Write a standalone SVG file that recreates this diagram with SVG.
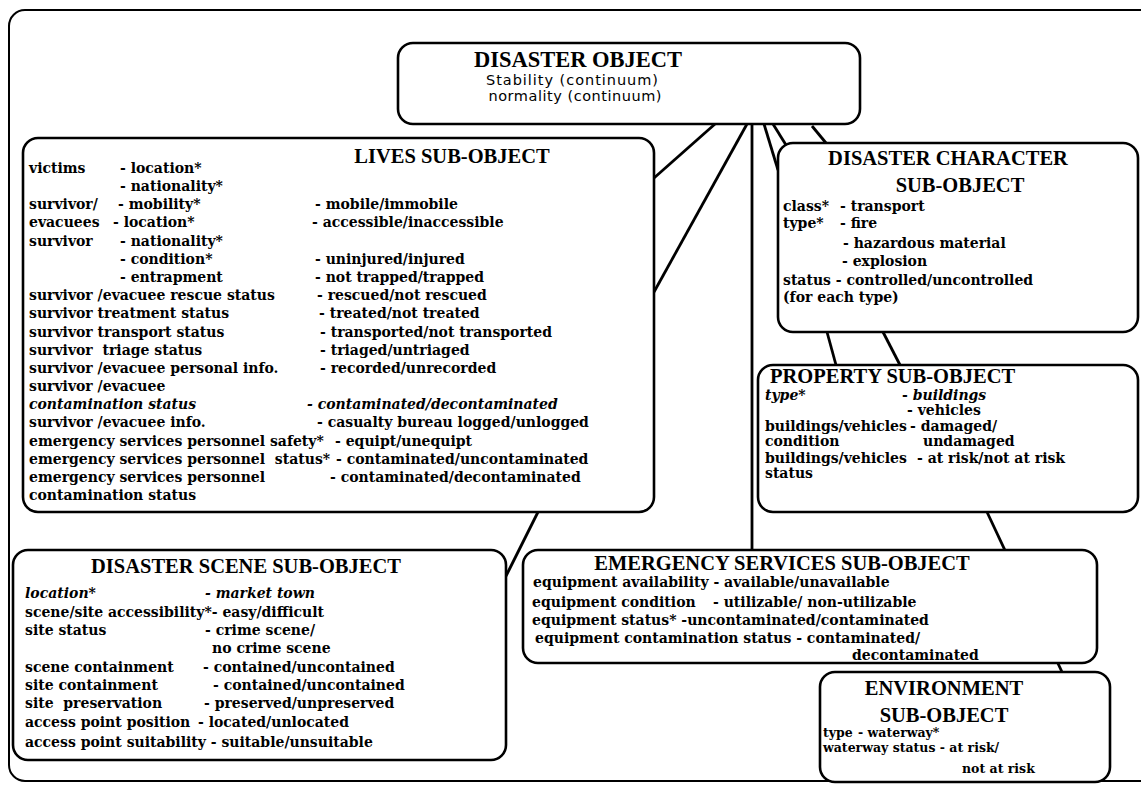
<svg xmlns="http://www.w3.org/2000/svg" width="1141" height="785" viewBox="0 0 1141 785">
  <style>
    .frame { fill: none; stroke: #000; stroke-width: 2; }
    .box { fill: #fff; stroke: #000; stroke-width: 2.6; }
    .link { stroke: #000; stroke-width: 2.8; fill: none; }
    .h { font-family: "Liberation Serif", "Times New Roman", serif; font-weight: bold; font-size: 20.5px; fill: #000; }
    .big { font-size: 22.5px; }
    .t { font-family: "DejaVu Serif", "Liberation Serif", serif; font-weight: bold; font-size: 14px; fill: #000; }
    .sm { font-size: 12.5px; }
    .s { font-family: "DejaVu Sans", "Liberation Sans", sans-serif; font-size: 14.5px; fill: #000; }
    .i { font-style: italic; }
    .c { text-anchor: middle; }
  </style>

  <!-- outer frame -->
  <rect class="frame" x="9" y="10" width="1150" height="771" rx="16"/>

  <!-- connectors (drawn first so the boxes sit on top) -->
  <g id="connectors">
    <line class="link" x1="715" y1="124" x2="654" y2="178"/>
    <line class="link" x1="747" y1="124" x2="654" y2="292"/>
    <line class="link" x1="752" y1="124" x2="752" y2="550"/>
    <line class="link" x1="764" y1="124" x2="778" y2="170"/>
    <line class="link" x1="773" y1="124" x2="786" y2="145"/>
    <line class="link" x1="812" y1="126" x2="826" y2="143"/>
    <line class="link" x1="827" y1="332" x2="836" y2="365"/>
    <line class="link" x1="883" y1="332" x2="900" y2="365"/>
    <line class="link" x1="987" y1="512" x2="1062" y2="672"/>
    <line class="link" x1="538" y1="512" x2="506" y2="576"/>
  </g>

  <!-- top object -->
  <g id="disaster-object">
    <rect class="box" x="398" y="43" width="462" height="81" rx="15"/>
    <text class="h big c" x="578" y="67">DISASTER OBJECT</text>
    <text class="s c" x="572" y="85" textLength="172" lengthAdjust="spacing">Stability (continuum)</text>
    <text class="s c" x="575" y="101" textLength="173" lengthAdjust="spacing">normality (continuum)</text>
  </g>

  <!-- lives -->
  <g id="lives">
    <rect class="box" x="23" y="138" width="631" height="374" rx="15"/>
    <text class="h c" x="452" y="163">LIVES SUB-OBJECT</text>
    <text class="t" x="29" y="173">victims</text>
    <text class="t" x="120" y="173">- location*</text>
    <text class="t" x="120" y="191">- nationality*</text>
    <text class="t" x="29" y="209">survivor/</text>
    <text class="t" x="118" y="209">- mobility*</text>
    <text class="t" x="315" y="209">- mobile/immobile</text>
    <text class="t" x="29" y="227">evacuees</text>
    <text class="t" x="113" y="227">- location*</text>
    <text class="t" x="312" y="227">- accessible/inaccessible</text>
    <text class="t" x="29" y="246">survivor</text>
    <text class="t" x="120" y="246">- nationality*</text>
    <text class="t" x="120" y="264">- condition*</text>
    <text class="t" x="315" y="264">- uninjured/injured</text>
    <text class="t" x="120" y="282">- entrapment</text>
    <text class="t" x="315" y="282">- not trapped/trapped</text>
    <text class="t" x="29" y="300">survivor /evacuee rescue status</text>
    <text class="t" x="317" y="300">- rescued/not rescued</text>
    <text class="t" x="29" y="318">survivor treatment status</text>
    <text class="t" x="319" y="318">- treated/not treated</text>
    <text class="t" x="29" y="337">survivor transport status</text>
    <text class="t" x="320" y="337">- transported/not transported</text>
    <text class="t" x="29" y="355" xml:space="preserve">survivor  triage status</text>
    <text class="t" x="320" y="355">- triaged/untriaged</text>
    <text class="t" x="29" y="373">survivor /evacuee personal info.</text>
    <text class="t" x="320" y="373">- recorded/unrecorded</text>
    <text class="t" x="29" y="391">survivor /evacuee</text>
    <text class="t i" x="29" y="409">contamination status</text>
    <text class="t i" x="307" y="409">- contaminated/decontaminated</text>
    <text class="t" x="29" y="427">survivor /evacuee info.</text>
    <text class="t" x="317" y="427">- casualty bureau logged/unlogged</text>
    <text class="t" x="29" y="446">emergency services personnel safety*</text>
    <text class="t" x="335" y="446">- equipt/unequipt</text>
    <text class="t" x="29" y="464" xml:space="preserve">emergency services personnel  status*</text>
    <text class="t" x="336" y="464">- contaminated/uncontaminated</text>
    <text class="t" x="29" y="482">emergency services personnel</text>
    <text class="t" x="330" y="482">- contaminated/decontaminated</text>
    <text class="t" x="29" y="500">contamination status</text>
  </g>

  <!-- disaster character -->
  <g id="disaster-character">
    <rect class="box" x="778" y="143" width="360" height="189" rx="15"/>
    <text class="h c" x="948" y="165">DISASTER CHARACTER</text>
    <text class="h c" x="960" y="192">SUB-OBJECT</text>
    <text class="t" x="783" y="211">class*</text>
    <text class="t" x="840" y="211">- transport</text>
    <text class="t" x="783" y="228">type*</text>
    <text class="t" x="840" y="228">- fire</text>
    <text class="t" x="843" y="248">- hazardous material</text>
    <text class="t" x="842" y="266">- explosion</text>
    <text class="t" x="783" y="285">status - controlled/uncontrolled</text>
    <text class="t" x="783" y="302">(for each type)</text>
  </g>

  <!-- property -->
  <g id="property">
    <rect class="box" x="758" y="365" width="380" height="147" rx="15"/>
    <text class="h" x="770" y="383">PROPERTY SUB-OBJECT</text>
    <text class="t i" x="765" y="400">type*</text>
    <text class="t" x="902" y="400">- <tspan class="i">buildings</tspan></text>
    <text class="t" x="907" y="415">- vehicles</text>
    <text class="t" x="765" y="431">buildings/vehicles</text>
    <text class="t" x="910" y="431">- damaged/</text>
    <text class="t" x="765" y="446">condition</text>
    <text class="t" x="923" y="446">undamaged</text>
    <text class="t" x="765" y="463">buildings/vehicles</text>
    <text class="t" x="917" y="463">- at risk/not at risk</text>
    <text class="t" x="765" y="478">status</text>
  </g>

  <!-- disaster scene -->
  <g id="disaster-scene">
    <rect class="box" x="13" y="550" width="493" height="210" rx="15"/>
    <text class="h c" x="246" y="573">DISASTER SCENE SUB-OBJECT</text>
    <text class="t i" x="25" y="598">location*</text>
    <text class="t i" x="205" y="598">- market town</text>
    <text class="t" x="25" y="617">scene/site accessibility*- easy/difficult</text>
    <text class="t" x="25" y="635">site status</text>
    <text class="t" x="205" y="635">- crime scene/</text>
    <text class="t" x="212" y="653">no crime scene</text>
    <text class="t" x="25" y="672">scene containment</text>
    <text class="t" x="203" y="672">- contained/uncontained</text>
    <text class="t" x="25" y="690">site containment</text>
    <text class="t" x="213" y="690">- contained/uncontained</text>
    <text class="t" x="25" y="708" xml:space="preserve">site  preservation</text>
    <text class="t" x="204" y="708">- preserved/unpreserved</text>
    <text class="t" x="25" y="727">access point position</text>
    <text class="t" x="198" y="727">- located/unlocated</text>
    <text class="t" x="25" y="747">access point suitability - suitable/unsuitable</text>
  </g>

  <!-- emergency services -->
  <g id="emergency-services">
    <rect class="box" x="523" y="550" width="574" height="113" rx="15"/>
    <text class="h c" x="782" y="570">EMERGENCY SERVICES SUB-OBJECT</text>
    <text class="t" x="533" y="587">equipment availability - available/unavailable</text>
    <text class="t" x="532" y="607">equipment condition</text>
    <text class="t" x="713" y="607">- utilizable/ non-utilizable</text>
    <text class="t" x="532" y="625">equipment status* -uncontaminated/contaminated</text>
    <text class="t" x="535" y="643">equipment contamination status - contaminated/</text>
    <text class="t" x="852" y="660">decontaminated</text>
  </g>

  <!-- environment -->
  <g id="environment">
    <rect class="box" x="820" y="672" width="290" height="110" rx="15"/>
    <text class="h c" x="944" y="695">ENVIRONMENT</text>
    <text class="h c" x="944" y="722">SUB-OBJECT</text>
    <text class="t sm" x="823" y="737">type</text>
    <text class="t sm" x="858" y="737">- waterway*</text>
    <text class="t sm" x="823" y="752">waterway status - at risk/</text>
    <text class="t sm" x="962" y="773">not at risk</text>
  </g>
</svg>
